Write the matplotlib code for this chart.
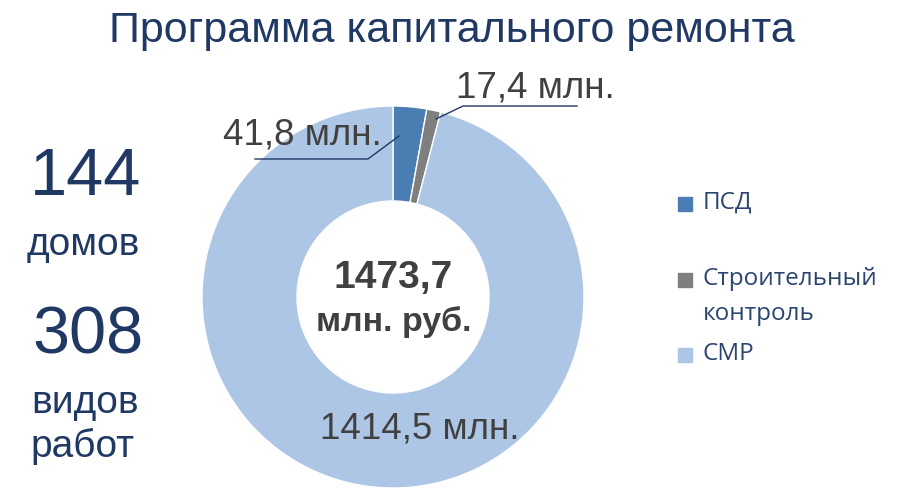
import matplotlib.pyplot as plt
from matplotlib.patches import Rectangle

# data
labels = ['ПСД', 'Строительный\nконтроль', 'СМР']
values = [41.8, 17.4, 1414.5]
colors = ['#4a7eb3', '#7f7f7f', '#aec6e5']
value_texts = ['41,8 млн.', '17,4 млн.', '1414,5 млн.']
total_text = ['1473,7', 'млн. руб.']

navy = '#1f3864'
dark = '#404040'
font = 'Liberation Sans'

fig = plt.figure(figsize=(9.13, 4.96), dpi=100)
ax = fig.add_axes([0, 0, 1, 1])

# pie drawn in pixel coordinates (y inverted -> counterclock=True gives clockwise on screen)
ax.pie(values, colors=colors, startangle=-90, counterclock=True,
       center=(393, 297), radius=191, frame=True,
       wedgeprops=dict(width=95, edgecolor='white', linewidth=1))
ax.set_xlim(0, 913)
ax.set_ylim(496, 0)
ax.set_aspect('auto')
ax.axis('off')

# title
ax.text(452, 31, 'Программа капитального ремонта', ha='center', va='center',
        fontsize=31, color=navy, family=font)

# left numbers
ax.text(86, 178, '144', ha='center', va='center', fontsize=48, color=navy, family=font)
ax.text(83, 245, 'домов', ha='center', va='center', fontsize=28, color=navy, family=font)
ax.text(88, 336, '308', ha='center', va='center', fontsize=48, color=navy, family=font)
ax.text(85, 403, 'видов', ha='center', va='center', fontsize=28, color=navy, family=font)
ax.text(82, 446, 'работ', ha='center', va='center', fontsize=28, color=navy, family=font)

# centre total
ax.text(393, 278, total_text[0], ha='center', va='center', fontsize=28, fontweight='bold',
        color=dark, family=font)
ax.text(394, 322, total_text[1], ha='center', va='center', fontsize=24.5, fontweight='bold',
        color=dark, family=font)

# value labels with leader lines
ax.text(302, 135, value_texts[0], ha='center', va='center', fontsize=26.5, color=dark, family=font)
ax.plot([399, 368, 255], [136, 159, 159], color=navy, lw=1)
ax.text(535, 88, value_texts[1], ha='center', va='center', fontsize=26.5, color=dark, family=font)
ax.plot([436, 463, 577], [119, 106, 106], color=navy, lw=1)
ax.text(420, 429, value_texts[2], ha='center', va='center', fontsize=26.5, color=dark, family=font)

# legend
leg_y = [204, 280, 355]
for lab, col, y in zip(labels, colors, leg_y):
    ax.add_patch(Rectangle((678, y - 7), 14, 14, color=col))
    for k, line in enumerate(lab.split('\n')):
        ax.text(703, y - 1 + 35 * k, line, ha='left', va='center', fontsize=17.5,
                color='#2b4470', family='Open Sans')

fig.savefig('out.png', dpi=100)
